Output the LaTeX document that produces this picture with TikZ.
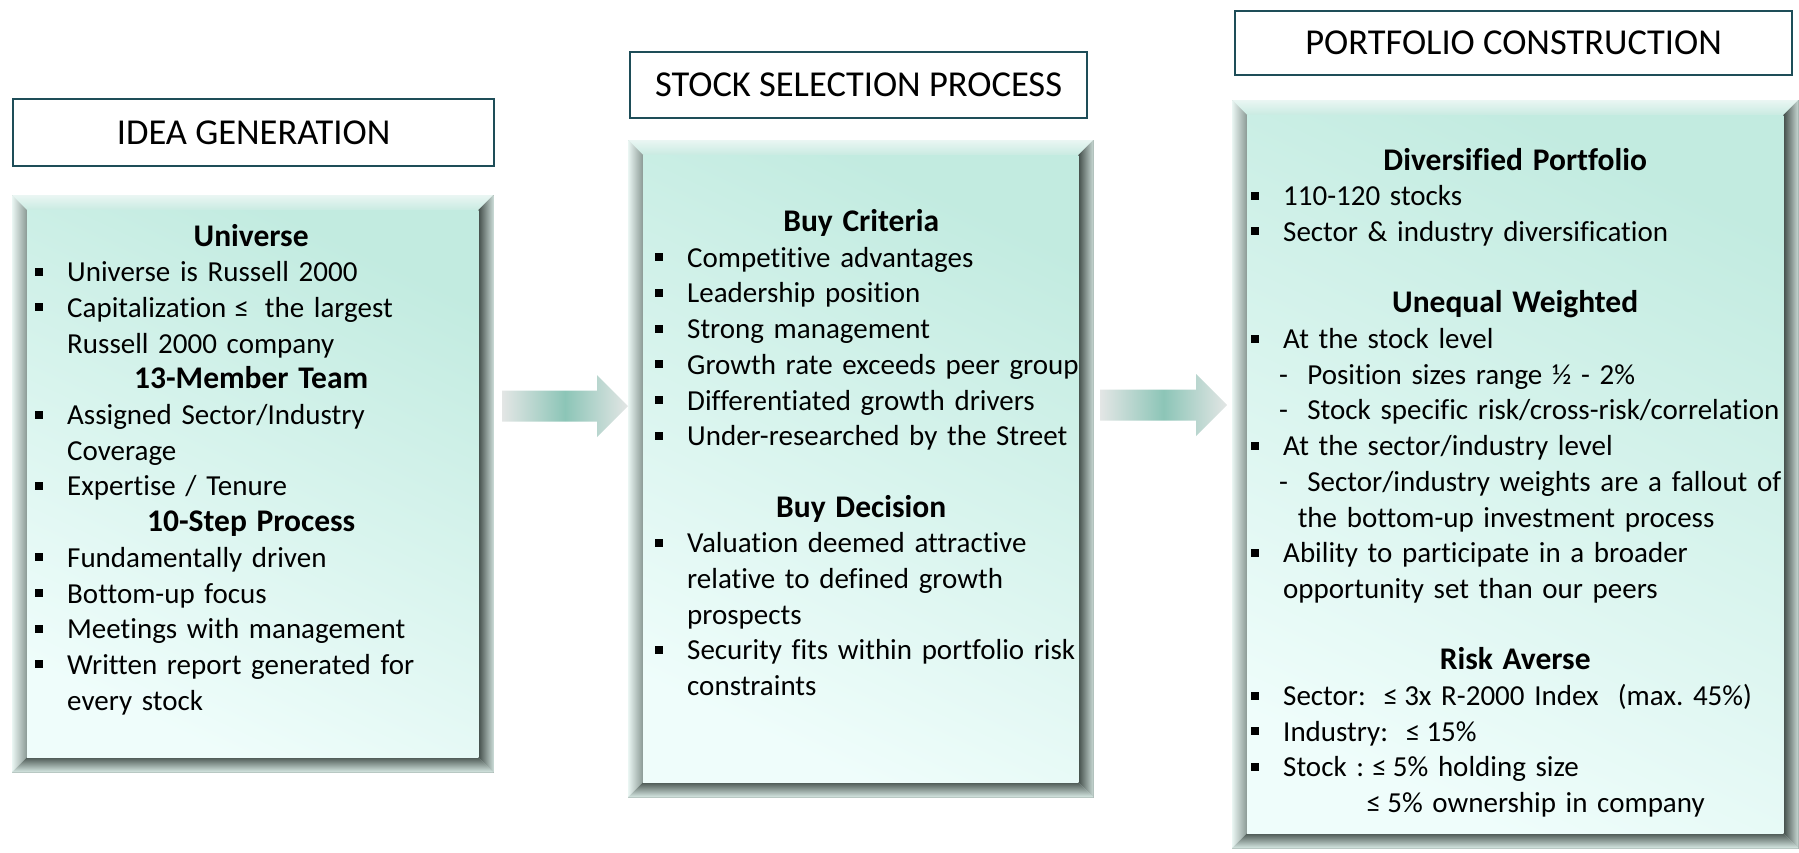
\documentclass[tikz,border=0pt]{standalone}
\usepackage{fontspec}
\setmainfont{Carlito}[Ligatures=CommonOff]
\usetikzlibrary{positioning}
\usetikzlibrary{calc}
\frenchspacing

\definecolor{titleline}{HTML}{1E4D58}
\definecolor{facetop}{HTML}{C2EBE0}
\definecolor{facebot}{HTML}{EFFDFB}
\definecolor{bevbase}{HTML}{D9EBE6}
\definecolor{bevedge}{HTML}{A9B8B3}
\definecolor{bevlight}{HTML}{EAF6F3}
\definecolor{bevmid}{HTML}{8A9994}
\definecolor{bevdark}{HTML}{434E4A}
\definecolor{arrowmid}{HTML}{8CC5B7}
\definecolor{arrowend}{HTML}{E3E6E5}

% bullets and lines inside the panels
\newcommand{\bul}{\makebox[32pt][l]{\rule[6pt]{8pt}{8pt}}}
\newcommand{\hd}[1]{\noindent\makebox[\linewidth][c]{\fontsize{31.5}{35.7}\selectfont\bfseries #1}\par}
\newcommand{\itm}[1]{\noindent\rlap{\bul #1}\par}
\newcommand{\cnt}[1]{\noindent\hspace*{32pt}\rlap{#1}\par}
\newcommand{\sub}[1]{\noindent\hspace*{28pt}\rlap{#1}\par}
\newcommand{\gap}{\noindent\mbox{}\par}
\newcommand{\lesym}{\kern-1.5pt≤\kern-3.5pt}

% raised frame round a panel node
\newcommand{\bevel}[1]{%
\fill[bevbase, draw=bevedge] (#1.north west) rectangle (#1.south east);
\shade[top color=bevlight, bottom color=facetop!70!bevbase] (#1.north west) -- (#1.north east) -- ($(#1.north east)+(-15,15)$) -- ($(#1.north west)+(15,15)$) -- cycle;
\shade[left color=bevlight, right color=bevmid] (#1.north west) -- ($(#1.north west)+(15,15)$) -- ($(#1.south west)+(15,-15)$) -- (#1.south west) -- cycle;
\shade[left color=bevdark, right color=bevbase!80!bevmid] (#1.north east) -- ($(#1.north east)+(-15,15)$) -- ($(#1.south east)+(-15,-15)$) -- (#1.south east) -- cycle;
\shade[top color=bevdark!85!bevmid, bottom color=bevbase] (#1.south west) -- ($(#1.south west)+(15,-15)$) -- ($(#1.south east)+(-15,-15)$) -- (#1.south east) -- cycle;
\shade[top color=facetop, bottom color=facebot, shading angle=-25] ($(#1.north west)+(15,15)$) rectangle ($(#1.south east)+(-15,-15)$);
}

% flat block arrow from #1 to the tip #2
\newcommand{\blockarrow}[2]{%
\shade[left color=arrowend, right color=arrowend, middle color=arrowmid]
  ($(#1)+(0,-15.5)$) -- ($(#2)+(-31,-15.5)$) -- ($(#2)+(-31,-31)$) -- (#2)
  -- ($(#2)+(-31,31)$) -- ($(#2)+(-31,15.5)$) -- ($(#1)+(0,15.5)$) -- cycle;
}

\begin{document}
\begin{tikzpicture}[x=1pt,y=-1pt,
  panel/.style={inner sep=0pt, anchor=north west},
  title/.style={draw=titleline, line width=2.2pt, fill=white, inner sep=0pt, anchor=north west, font=\fontsize{36.5}{44}\selectfont},
  txt/.style={inner sep=0pt, anchor=base west, align=left, font=\fontsize{29}{35.7}\selectfont}]
\useasboundingbox (0,0) rectangle (1799,852);

% titles
\node[title, minimum width=481pt, minimum height=67pt] (t1) at (12,98) {IDEA GENERATION};
\node[title, minimum width=457pt, minimum height=66pt] (t2) at (629,51) {STOCK SELECTION PROCESS};
\node[title, minimum width=557pt, minimum height=64pt] (t3) at (1234,10) {PORTFOLIO CONSTRUCTION};

% panels
\node[panel, minimum width=481pt, minimum height=577pt] (p1) at (12,195) {};
\node[panel, minimum width=465pt, minimum height=657pt] (p2) at (628,140) {};
\node[panel, minimum width=566pt, minimum height=748pt] (p3) at (1232,100) {};
\bevel{p1}
\bevel{p2}
\bevel{p3}

% arrows between the panels
\coordinate (a1s) at (502,406);
\coordinate (a1e) at (628,406);
\coordinate (a2s) at (1100,405);
\coordinate (a2e) at (1227,405);
\blockarrow{a1s}{a1e}
\blockarrow{a2s}{a2e}

\node[txt, text width=432pt] (c1) at (35,246) {%
\hd{Universe}
\itm{Universe is Russell 2000}
\itm{Capitalization \lesym~ the largest}
\cnt{Russell 2000 company}
\hd{13-Member Team}
\itm{Assigned Sector/Industry}
\cnt{Coverage}
\itm{Expertise / Tenure}
\hd{10-Step Process}
\itm{Fundamentally driven}
\itm{Bottom-up focus}
\itm{Meetings with management}
\itm{Written report generated for}
\cnt{every stock}};

\node[txt, text width=412pt] (c2) at (655,231.5) {%
\hd{Buy Criteria}
\itm{Competitive advantages}
\itm{Leadership position}
\itm{Strong management}
\itm{Growth rate exceeds peer group}
\itm{Differentiated growth drivers}
\itm{Under-researched by the Street}
\gap
\hd{Buy Decision}
\itm{Valuation deemed attractive}
\cnt{relative to defined growth}
\cnt{prospects}
\itm{Security fits within portfolio risk}
\cnt{constraints}};

\node[txt, text width=528pt] (c3) at (1251,170) {%
\hd{Diversified Portfolio}
\itm{110-120 stocks}
\itm{Sector \& industry diversification}
\gap
\hd{Unequal Weighted}
\itm{At the stock level}
\sub{-~ Position sizes range ½ - 2\%}
\sub{-~ Stock specific risk/cross-risk/correlation}
\itm{At the sector/industry level}
\sub{-~ Sector/industry weights are a fallout of}
\sub{\phantom{-~}the bottom-up investment process}
\itm{Ability to participate in a broader}
\cnt{opportunity set than our peers}
\gap
\hd{Risk Averse}
\itm{Sector:~ \lesym{} 3x R-2000 Index~ (max. 45\%)}
\itm{Industry:~ \lesym{} 15\%}
\itm{Stock : \lesym{} 5\% holding size}
\noindent\hspace*{117pt}\rlap{\lesym{} 5\% ownership in company}\par};
\end{tikzpicture}
\end{document}
